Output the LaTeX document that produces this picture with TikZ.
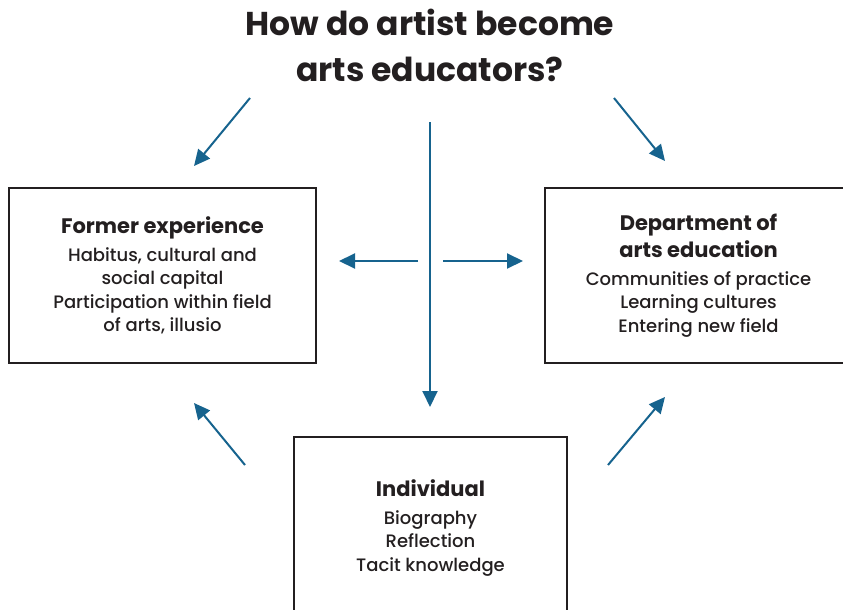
\documentclass[tikz,border=0pt]{standalone}
\usepackage{fontspec}
\setmainfont{Poppins}[UprightFont=* Medium, BoldFont=* Bold]
\usetikzlibrary{arrows.meta}
\definecolor{flowblue}{RGB}{22,99,142}
\definecolor{inkgray}{RGB}{35,31,32}
\newcommand{\boxhead}[1]{{\fontsize{21}{27}\selectfont\bfseries #1}}

\begin{document}
\begin{tikzpicture}[x=1pt,y=-1pt,
  box/.style={
    draw=inkgray,
    line width=2.2pt,
    align=center,
    text=inkgray,
    font=\fontsize{18}{23.5}\selectfont
  },
  flow/.style={
    draw=flowblue,
    line width=2pt,
    -{Triangle[length=16pt,width=15pt]}
  }
]
\useasboundingbox (0,0) rectangle (843,610);
\clip (0,0) rectangle (843,610);

% question on top
\node[align=center,text=inkgray,font=\fontsize{33}{46}\selectfont\bfseries]
  (title) at (430,45) {How do artist become\\arts educators?};

% the three fields
\node[box,minimum width=307pt,minimum height=175pt] (former) at (162.5,275.5)
  {\boxhead{Former experience}\\[4pt]Habitus, cultural and\\social capital\\
   Participation within field\\of arts, illusio};
\node[box,minimum width=307pt,minimum height=175pt] (dept) at (698.5,275.5)
  {\boxhead{Department of}\\[4pt]\boxhead{arts education}\\[4pt]Communities of practice\\
   Learning cultures\\Entering new field};
\node[box,minimum width=273pt,minimum height=182pt] (indiv) at (430.5,528)
  {\boxhead{Individual}\\[4pt]Biography\\Reflection\\Tacit knowledge};

% arrow ends
\coordinate (tlS) at (250,98);  \coordinate (tlE) at (194,166);
\coordinate (trS) at (614,98);  \coordinate (trE) at (665,161);
\coordinate (blS) at (245,465); \coordinate (blE) at (194,403);
\coordinate (brS) at (608,465); \coordinate (brE) at (665,397);
\coordinate (vS) at (430,122);  \coordinate (vE) at (430,407);
\coordinate (lS) at (418,261);  \coordinate (lE) at (339,261);
\coordinate (rS) at (443,261);  \coordinate (rE) at (523,261);

\draw[flow] (tlS) -- (tlE);
\draw[flow] (trS) -- (trE);
\draw[flow] (blS) -- (blE);
\draw[flow] (brS) -- (brE);
\draw[flow] (vS) -- (vE);
\draw[flow] (lS) -- (lE);
\draw[flow] (rS) -- (rE);
\end{tikzpicture}
\end{document}
